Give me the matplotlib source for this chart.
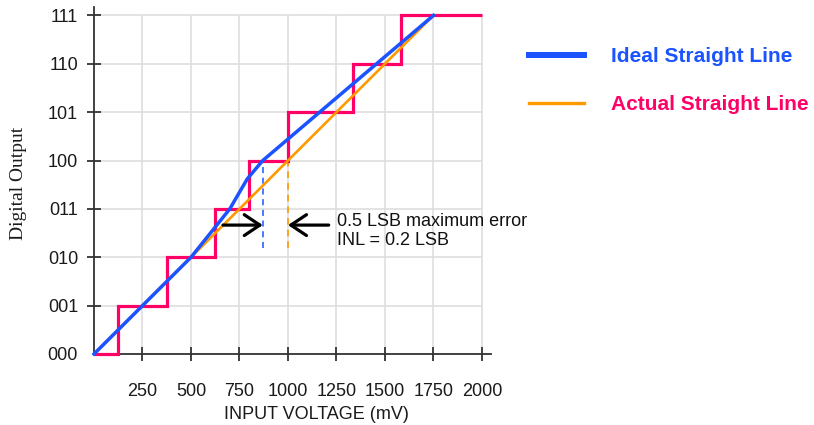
import matplotlib
matplotlib.use("Agg")
import matplotlib.pyplot as plt
from matplotlib.lines import Line2D

# ---- data ----
x_ticks = [250, 500, 750, 1000, 1250, 1500, 1750, 2000]
y_codes = [0, 1, 2, 3, 4, 5, 6, 7]
y_labels = ["000", "001", "010", "011", "100", "101", "110", "111"]

# actual ADC transfer staircase (transition edges in mV)
stair_edges = [0, 125, 375, 625, 800, 1000, 1333, 1583, 2000]
stair_codes = [0, 1, 2, 3, 4, 5, 6, 7]

# "Ideal Straight Line" (blue) as drawn
ideal_x = [0, 500, 700, 790, 870, 1750]
ideal_y = [0, 2.0, 3.0, 3.62, 4.0, 7.0]

# "Actual Straight Line" (orange)
actual_x = [0, 1750]
actual_y = [0, 7.0]

# error markers
blue_mark_x = 870
orange_mark_x = 1000
mark_y_low = 2.19
mark_y_high = 4.0
arrow_y = 2.665
arrow1_from, arrow1_to = 665, 870
arrow2_from, arrow2_to = 1210, 1000
note_x, note_y = 1253, 2.545
note_text = "0.5 LSB maximum error\nINL = 0.2 LSB"

BLUE = "#1A53FF"
ORANGE = "#FF9900"
PINK = "#FF0066"
GRID = "#DEDEDE"

plt.rcParams['font.family'] = ['Liberation Sans', 'DejaVu Sans']

fig = plt.figure(figsize=(8.14, 4.25), dpi=100)
ax = fig.add_axes([94/814, 71/425, 396.7/814, 347.3/425])
ax.set_xlim(0, 2045)
ax.set_ylim(0, 7.18)

# grid restricted to the data region
ax.vlines(x_ticks, 0, max(y_codes), colors=GRID, lw=1.2, zorder=1)
ax.hlines(y_codes[1:], 0, max(x_ticks), colors=GRID, lw=1.2, zorder=1)

# staircase
ax.stairs(stair_codes, stair_edges, baseline=None, color=PINK, lw=2.3,
          zorder=3, clip_on=False)
# straight lines
ax.plot(actual_x, actual_y, color=ORANGE, lw=1.9, zorder=4, clip_on=False,
        solid_capstyle='butt')
ax.plot(ideal_x, ideal_y, color=BLUE, lw=2.5, zorder=5, clip_on=False,
        solid_joinstyle='round')

# dashed verticals
ax.vlines([blue_mark_x], mark_y_low, mark_y_high, colors=BLUE, lw=1.1,
          linestyles=(0, (4, 3)), zorder=2)
ax.vlines([orange_mark_x], mark_y_low, mark_y_high, colors=ORANGE, lw=1.2,
          linestyles=(0, (4, 3)), zorder=2)

# arrows
arrow_style = dict(arrowstyle="->,head_length=0.45,head_width=0.3",
                   color="black", lw=2.3, mutation_scale=25,
                   shrinkA=0, shrinkB=0)
ax.annotate("", xy=(arrow1_to, arrow_y), xytext=(arrow1_from, arrow_y),
            arrowprops=arrow_style, zorder=6)
ax.annotate("", xy=(arrow2_to, arrow_y), xytext=(arrow2_from, arrow_y),
            arrowprops=arrow_style, zorder=6)
ax.text(note_x, note_y, note_text, fontsize=13, ha='left', va='center',
        color="#111111", linespacing=1.2)

# axes styling
for s in ["top", "right"]:
    ax.spines[s].set_visible(False)
for s in ["left", "bottom"]:
    ax.spines[s].set_color("#333333")
    ax.spines[s].set_linewidth(1.3)

ax.set_xticks(x_ticks)
ax.set_xticklabels([str(v) for v in x_ticks])
ax.set_yticks(y_codes)
ax.set_yticklabels(y_labels)
ax.tick_params(axis='x', direction='inout', length=10, width=1.3,
               color="#333333", labelsize=13, pad=16, labelcolor="#1a1a1a")
ax.tick_params(axis='y', direction='inout', length=10, width=1.3,
               color="#333333", labelsize=13, pad=6.5, labelcolor="#1a1a1a")
ax.yaxis.get_major_ticks()[0].tick1line.set_visible(False)

ax.set_xlabel("INPUT VOLTAGE (mV)", fontsize=13, va='center', color="#1a1a1a")
ax.xaxis.set_label_coords(0.56, -0.173)
ax.set_ylabel("Digital Output", fontsize=14, family=['Liberation Serif', 'DejaVu Serif'],
              va='center', ha='center', color="#1a1a1a")
ax.yaxis.set_label_coords(-0.19, 0.492)

# legend
handles = [Line2D([0], [0], color=BLUE, lw=4.3),
           Line2D([0], [0], color=ORANGE, lw=2.4)]
leg = fig.legend(handles, ["Ideal Straight Line", "Actual Straight Line"],
                 loc='upper left', bbox_to_anchor=(529/814, 1 - 47/425),
                 frameon=False, borderpad=0, borderaxespad=0,
                 handlelength=2.65, handletextpad=1.3, labelspacing=1.4,
                 prop={'size': 15, 'weight': 'bold'})
for t, c in zip(leg.get_texts(), [BLUE, PINK]):
    t.set_color(c)

fig.savefig("out.png", dpi=100)
